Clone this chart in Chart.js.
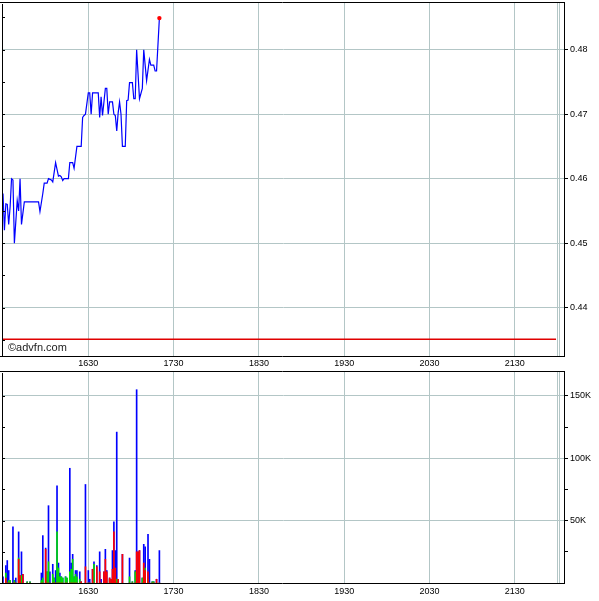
<!DOCTYPE html>
<html>
<head>
<meta charset="utf-8">
<script src="https://cdn.jsdelivr.net/npm/chart.js@4.4.0/dist/chart.umd.min.js"></script>
<style>
body{margin:0;background:#fff;}
#wrap{position:relative;width:599px;height:601px;background:#fff;}
canvas{position:absolute;left:0;}
#priceChart{top:0;}
#volChart{top:370px;}
#mark{position:absolute;left:8px;top:341px;font:11px "Liberation Sans",Arial,sans-serif;color:#222;}
</style>
</head>
<body>
<div id="wrap">
<canvas id="priceChart" width="599" height="370"></canvas>
<canvas id="volChart" width="599" height="231"></canvas>
<div id="mark">©advfn.com</div>
</div>
<script>

// minutes after 15:30
const priceTimes = [0,1,2,3,4,5,6,7,8,10,11,12,13,15,25,26,28,29,31,32,34,35,37,39,40,41,42,43,46,47,49,50,52,55,56,57,58,60,61,62,63,67,68,69,70,72,73,74,75,77,78,79,80,81,82,83,84,86,87,88,89,91,92,93,94,96,98,99,101,103,104,106,107,108,110]
const prices = [0.4577,0.4520,0.4561,0.4560,0.4529,0.4556,0.4600,0.4598,0.4500,0.4566,0.4550,0.4600,0.4529,0.4564,0.4564,0.4549,0.4577,0.4593,0.4593,0.4600,0.4598,0.4595,0.4625,0.4604,0.4605,0.4603,0.4597,0.4600,0.4600,0.4625,0.4625,0.4616,0.4650,0.4650,0.4695,0.4698,0.4700,0.4733,0.4733,0.4700,0.4733,0.4733,0.4695,0.4727,0.4698,0.4740,0.4740,0.4700,0.4719,0.4719,0.4700,0.4698,0.4674,0.4702,0.4719,0.4700,0.4650,0.4650,0.4721,0.4722,0.4749,0.4749,0.4724,0.4724,0.4800,0.4724,0.4740,0.4800,0.4752,0.4785,0.4776,0.4776,0.4767,0.4767,0.4849]

const prevClose = 0.4351
const prevCloseSpan = [0,389]

const volTimes = [0,2,3,4,5,7,8,9,11,12,13,14,17,19,27,28,30,31,32,33,35,36,37,38,39,40,41,42,44,45,47,48,49,50,51,52,54,55,58,60,61,63,64,66,68,69,71,72,73,75,76,77,78,79,80,81,84,89,91,93,94,95,96,98,99,100,102,103,105,106,108,110]
const volTotalK = [5,14,18,10,2,45,2,4,41,6,25,7,1,1,8,38,28,9,62,9,15,4,10,78,16,8,5,4,5,4,92,16,23,5,10,10,9,1,79,10,3,11,17,14,25,3,9,27,10,4,3,26,49,26,121,3,23,20,1,10,155,25,26,4,31,29,39,19,1,1,3,26]
const volSellK = [0,4,0,0,0,0,0,0,19,6,0,7,0,0,0,0,27,0,0,0,0,0,0,0,0,0,0,0,0,0,0,0,0,0,0,0,0,1,13,0,0,11,0,13,9,0,9,19,9,4,3,11,41,12,0,3,23,0,0,0,25,25,26,0,16,10,9,0,0,0,3,0]
const volBuyK = [0,8,0,2,2,0,2,0,20,0,6,0,1,1,2,4,0,9,17,0,7,4,0,41,12,5,5,4,5,4,9,11,19,5,7,5,3,0,0,0,0,0,15,0,0,0,0,0,0,3,0,0,0,4,3,0,0,5,1,9,0,0,0,4,0,12,3,0,1,1,0,0]

const xTickMinutes = [60,120,180,240,300,360]
const xTickLabels = ['1630','1730','1830','1930','2030','2130']
const xExtraLines = [390,391.5]
const priceTicks = [0.44,0.45,0.46,0.47,0.48]
const volTicksK = [25,50,75,100,125,150]
const volLabelK = [50,100,150]

const xMin = 0, xMax = 394.6
const gridColor = '#b3c6c6'
const tickFont = {family:'"Liberation Sans", Arial, sans-serif', size:9}

const framePlugin = {
id:'frame',
afterDraw(chart,args,opts){
const ctx = chart.ctx
const a = chart.chartArea
ctx.save()
ctx.strokeStyle = '#000'
ctx.lineWidth = 1
ctx.beginPath()
ctx.moveTo(0,a.top+0.5); ctx.lineTo(a.right+1,a.top+0.5)
ctx.moveTo(0,a.bottom+0.5); ctx.lineTo(a.right+1,a.bottom+0.5)
ctx.moveTo(a.left-0.5,a.top+2); ctx.lineTo(a.left-0.5,a.bottom)
ctx.moveTo(a.right+0.5,a.top); ctx.lineTo(a.right+0.5,a.bottom)
// small ticks inside the left edge
const ys = chart.scales.y
const step = opts.minorStep
for(let v = Math.ceil(ys.min/step-1e-9)*step; v < ys.max; v += step){
let p = Math.round(ys.getPixelForValue(v))+0.5
if(p > a.bottom-1) continue
ctx.moveTo(a.left-1,p); ctx.lineTo(a.left+2,p)
}
ctx.stroke()
ctx.restore()
}
}

function noPad(s){
s.paddingTop = 0; s.paddingBottom = 0; s.paddingLeft = 0; s.paddingRight = 0
}

function xScaleOpts(height,pad){
return {
type:'linear',
min:xMin,
max:xMax,
offset:false,
afterBuildTicks:s=>{ s.ticks = xTickMinutes.concat(xExtraLines).map(v=>({value:v})) },
afterFit:s=>{ s.height = height; noPad(s) },
grid:{color:gridColor,drawTicks:false,offset:false},
border:{display:false},
ticks:{
autoSkip:false,maxRotation:0,padding:pad,font:tickFont,color:'#000',
callback:(v)=>{ let i = xTickMinutes.indexOf(v); return i>=0 ? xTickLabels[i] : '' }
}
}
}

new Chart(document.getElementById('priceChart'),{
type:'line',
data:{
datasets:[{
data:priceTimes.map((t,i)=>({x:t,y:prices[i]})),
borderColor:'#0000ff',
borderWidth:1.2,
tension:0,
pointRadius:c=> c.dataIndex===prices.length-1 ? 2.2 : 0,
pointBackgroundColor:'#ff0000',
pointBorderWidth:0
},{
data:prevCloseSpan.map(t=>({x:t,y:prevClose})),
borderColor:'#e00000',
borderWidth:1.3,
pointRadius:0
}]
},
options:{
responsive:false,
animation:false,
layout:{autoPadding:false,padding:{left:3,top:2,right:0,bottom:0}},
plugins:{legend:{display:false},tooltip:{enabled:false},frame:{minorStep:0.005}},
scales:{
x:xScaleOpts(14,2),
y:{
position:'right',
min:0.4325,
max:0.4874,
afterBuildTicks:s=>{ s.ticks = priceTicks.map(v=>({value:v})) },
afterFit:s=>{ s.width = 35; noPad(s) },
grid:{color:gridColor,tickColor:'#000',tickLength:4},
border:{display:false},
ticks:{padding:2,font:tickFont,color:'#000',callback:v=>v.toFixed(2)}
}
}
},
plugins:[framePlugin]
})

function volSet(vals,color,order){
return {
data:volTimes.map((t,i)=>({x:t,y:vals[i]})),
backgroundColor:color,
borderWidth:0,
barThickness:1,
grouped:false,
order:order
}
}

new Chart(document.getElementById('volChart'),{
type:'bar',
data:{
datasets:[
volSet(volTotalK,'#0000ff',3),
volSet(volBuyK,'#00e000',2),
volSet(volSellK,'#ff0000',1)
]
},
options:{
responsive:false,
animation:false,
layout:{autoPadding:false,padding:{left:3,top:1,right:0,bottom:0}},
plugins:{legend:{display:false},tooltip:{enabled:false},frame:{minorStep:25}},
scales:{
x:xScaleOpts(18,3),
y:{
position:'right',
min:0,
max:170,
afterBuildTicks:s=>{ s.ticks = volTicksK.map(v=>({value:v})) },
afterFit:s=>{ s.width = 35; noPad(s) },
grid:{color:c=> volLabelK.includes(c.tick && c.tick.value) ? gridColor : 'rgba(0,0,0,0)',tickColor:'#000',tickLength:4},
border:{display:false},
ticks:{padding:2,font:tickFont,color:'#000',callback:v=> volLabelK.includes(v) ? v+'K' : ''}
}
}
},
plugins:[framePlugin]
})

</script>
</body>
</html>
